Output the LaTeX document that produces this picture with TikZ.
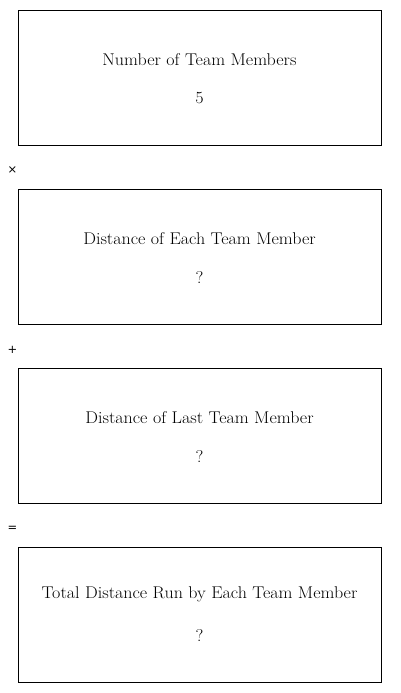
\documentclass[tikz,border=0pt]{standalone}
\usepackage{fontspec}
\setmainfont[FakeStretch=1.06]{Latin Modern Roman}
\newfontfamily\opfont{DejaVu Sans}
\usetikzlibrary{positioning}

\begin{document}
\begin{tikzpicture}[x=1pt,y=-1pt,
  box/.style={draw,line width=0.8pt,minimum width=363pt,minimum height=135pt,inner sep=0pt},
  lbl/.style={font=\fontsize{17}{20}\selectfont,inner sep=0pt},
  op/.style={font=\opfont\fontsize{11.5}{13}\selectfont,inner sep=0pt}]
\useasboundingbox (0,0) rectangle (400,693);
% the four boxes
\node[box] (n) at (199.5,77.5) {};
\node[box] (d) at (199.5,256.5) {};
\node[box] (l) at (199.5,435.5) {};
\node[box] (t) at (199.5,614.5) {};
\node[lbl,above=12pt of n.center] (nt) {Number of Team Members};
\node[lbl,below=15pt of n.center] (nv) {5};
\node[lbl,above=12pt of d.center] (dt) {Distance of Each Team Member};
\node[lbl,below=15pt of d.center] (dv) {?};
\node[lbl,above=12pt of l.center] (lt) {Distance of Last Team Member};
\node[lbl,below=15pt of l.center] (lv) {?};
\node[lbl,above=12pt of t.center] (tt) {Total Distance Run by Each Team Member};
\node[lbl,below=15pt of t.center] (tv) {?};
% operators
\node[op] (times) at (12.5,170.5) {×};
\node[op] (plus) at (12.5,349.5) {+};
\node[op] (eq) at (12.5,528.5) {=};
\end{tikzpicture}
\end{document}
